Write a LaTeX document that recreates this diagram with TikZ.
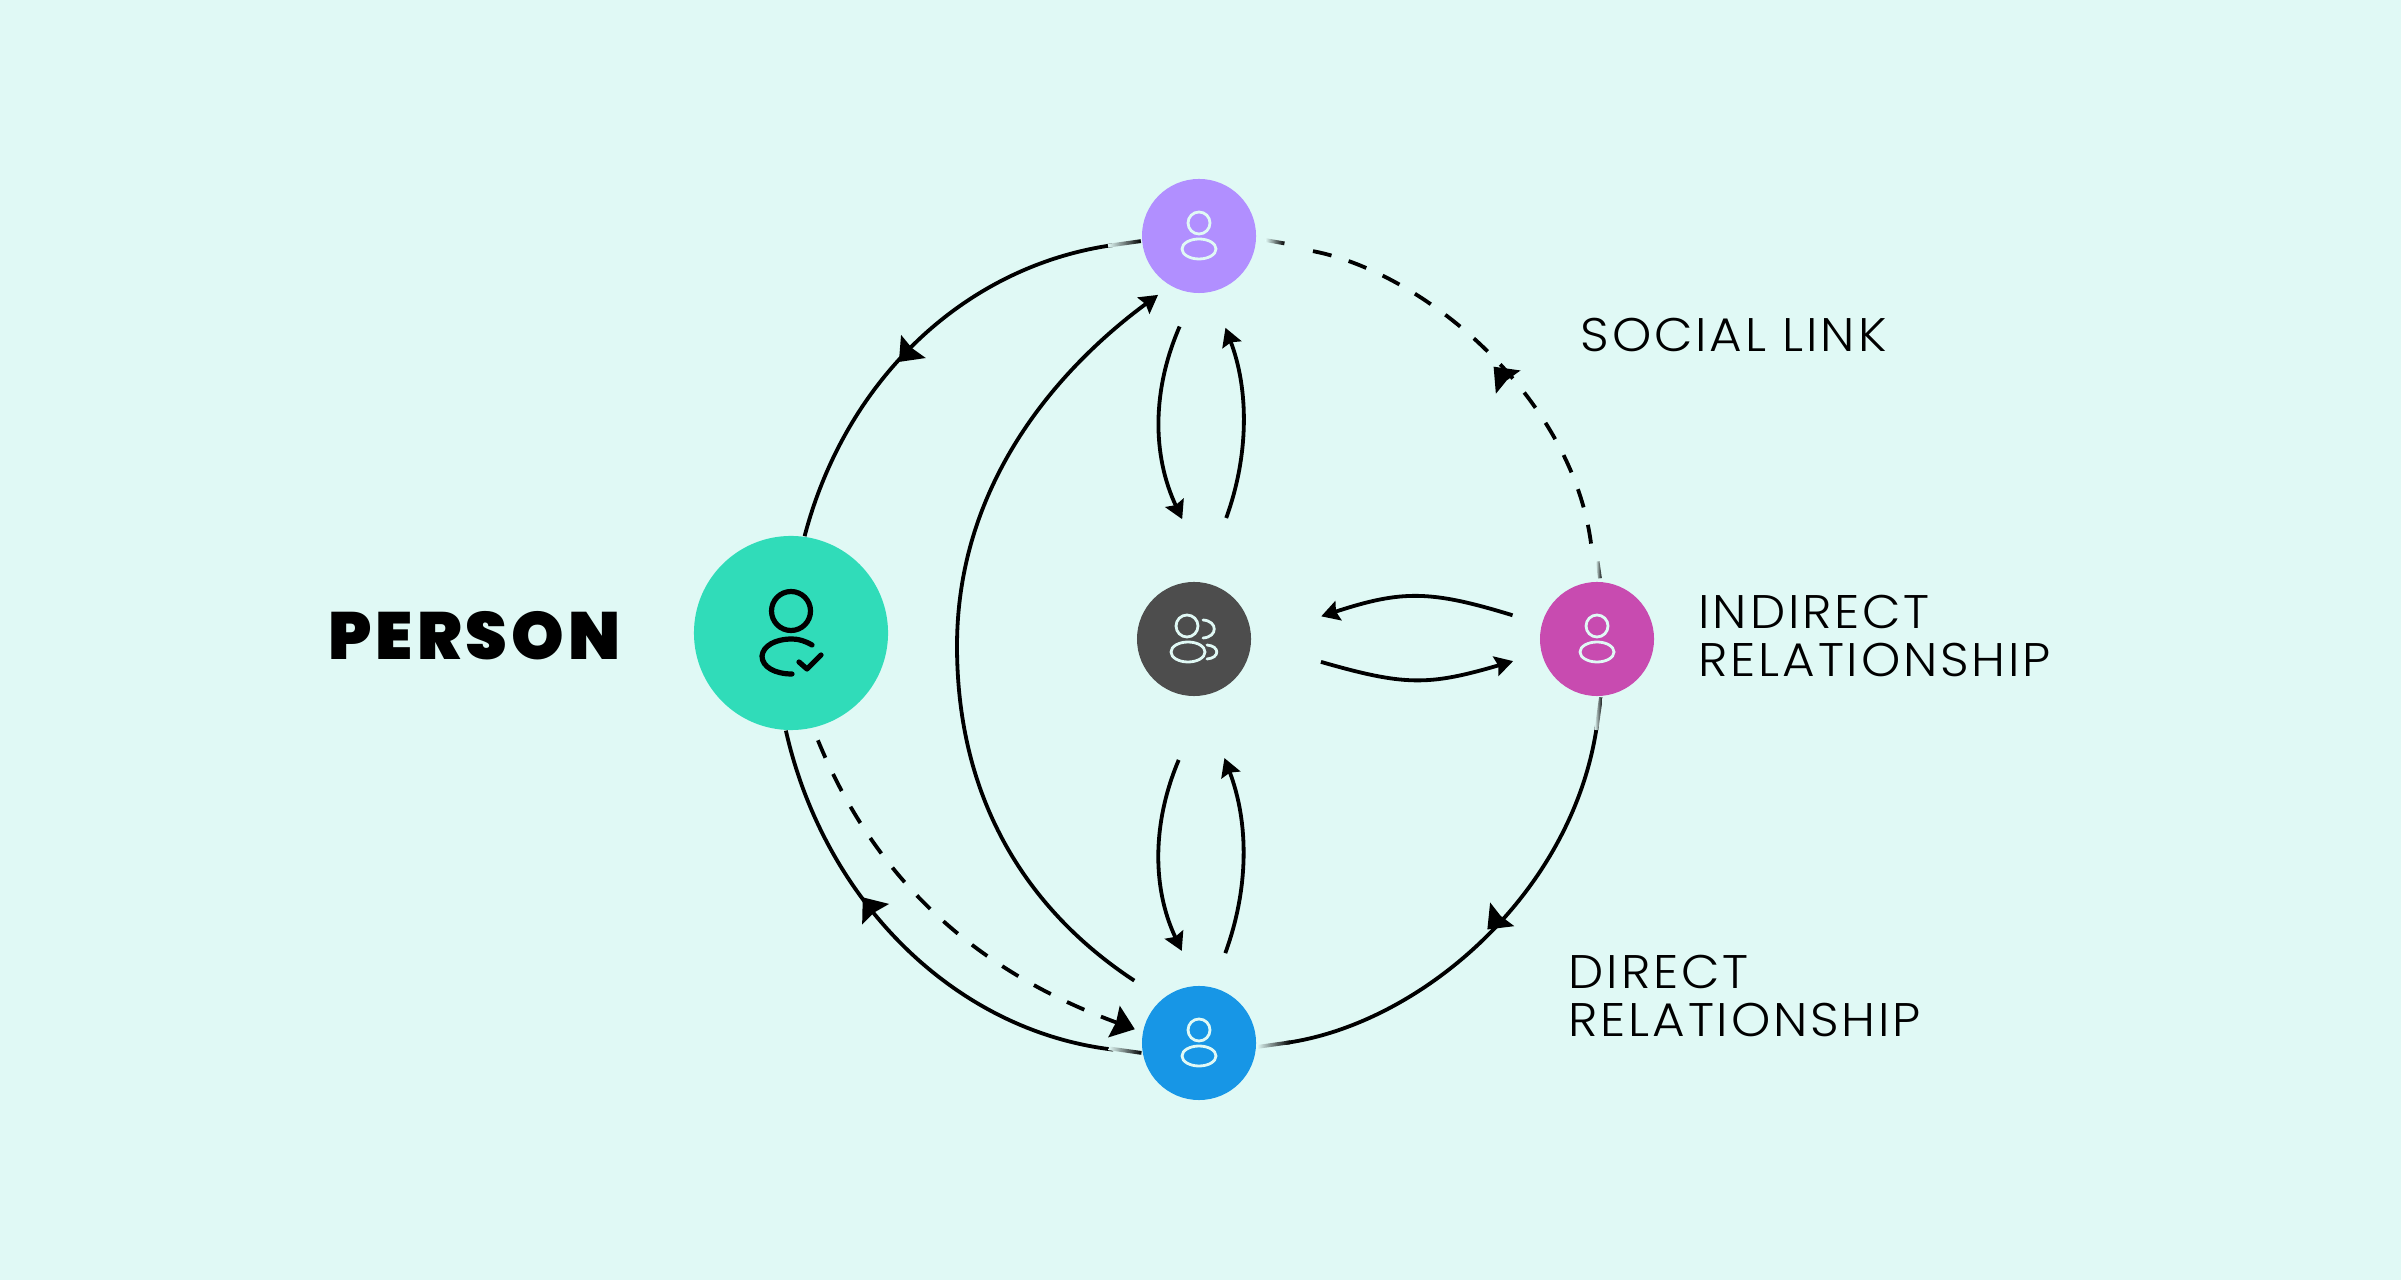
\documentclass[tikz,border=0pt]{standalone}
\usepackage{fontspec}
\usepackage{xcolor}
\usetikzlibrary{arrows.meta}
\usetikzlibrary{decorations.markings}
\newfontfamily\personfont[LetterSpace=6]{Poppins Black}
\newfontfamily\labelfont[LetterSpace=6,FakeStretch=1.06]{Poppins Light}
\definecolor{bgmint}{HTML}{E0F9F5}
\definecolor{personteal}{HTML}{30DCB9}
\definecolor{socialpurple}{HTML}{B18FFF}
\definecolor{groupgrey}{HTML}{4D4D4D}
\definecolor{indirectpink}{HTML}{C84BB0}
\definecolor{directblue}{HTML}{1796E6}
\tikzset{
  dot/.style={circle,fill=#1,inner sep=0pt,minimum size=1.14cm},
  link/.style={draw=black,line width=0.038cm},
  dashlink/.style={link,dash pattern=on 0.19cm off 0.18cm},
  smalltip/.style={-{Stealth[length=0.18cm,width=0.2cm,inset=0.025cm]}},
  bigtip/.style={-{Stealth[length=0.22cm,width=0.33cm,inset=0.02cm]}},
  midtip/.style={postaction={decorate,decoration={markings,mark=at position #1 with {\arrow{Stealth[length=0.21cm,width=0.33cm,inset=0.02cm]}}}}},
  fadebit/.style={rectangle,inner sep=0pt,minimum height=0.038cm,minimum width=#1,left color=bgmint,middle color=black!75!bgmint,right color=black,anchor=west},
  fadebit/.default=0.33cm,
  caption/.style={inner sep=0pt,anchor=west,align=left,font=\fontsize{13.4}{13.4}\labelfont},
  usericon/.pic={
    \draw (0,-13) circle (11);
    \draw (0,13) ellipse [x radius=17,y radius=10];
  },
  groupicon/.pic={
    \draw (-7,-13) circle (11);
    \draw (-6,13) ellipse [x radius=17,y radius=10];
    \draw (9,-19) .. controls (24,-18) and (24,-2) .. (9,-1);
    \draw (13,6) .. controls (26,7) and (26,19) .. (13,20);
  },
  checkicon/.pic={
    \draw (0,-22) circle (19.5);
    \draw (21,12) .. controls (14,8) and (8,6) .. (1,6) .. controls (-16,6) and (-28,13) .. (-29,23) .. controls (-29,34) and (-16,41) .. (1,41);
    \draw (8,29) -- (16,36) -- (30,22);
  }
}
\begin{document}
\begin{tikzpicture}[x=0.01cm,y=-0.01cm]
  \fill[bgmint] (0,0) rectangle (2401,1280);
  \useasboundingbox (0,0) rectangle (2401,1280);

  \node[dot=personteal,minimum size=1.94cm] (person) at (791,633) {};
  \node[dot=socialpurple] (social) at (1199,236) {};
  \node[dot=groupgrey] (group) at (1194,639) {};
  \node[dot=indirectpink] (indirect) at (1597,639) {};
  \node[dot=directblue] (direct) at (1199,1043) {};

  % outer ring
  \draw[link,midtip=0.58,shorten <=0.29cm] (social.185) .. controls (966,266) and (846,378) .. (person.82);
  \draw[link,midtip=0.64,shorten <=0.29cm] (direct.190) .. controls (954,1031) and (824,900) .. (person.267);
  \draw[link,midtip=0.5,shorten <=0.29cm,shorten >=0.29cm] (indirect.-86) .. controls (1573,893) and (1421,1024) .. (direct.-4);
  \draw[dashlink,midtip=0.47,shorten <=0.38cm,shorten >=0.47cm] (indirect.91) .. controls (1571,392) and (1415,265) .. (social.-7);
  \draw[dashlink,bigtip,shorten <=0.13cm,shorten >=0.08cm] (person.-77) .. controls (878,887) and (984,974) .. (direct.169);

  % long curve on the left
  \draw[link,smalltip,shorten <=0.33cm,shorten >=0.15cm] (direct.130) .. controls (1042,920) and (957,816) .. (957,646) .. controls (957,476) and (1067,362) .. (social.240);

  % around the group
  \draw[link,smalltip,shorten <=0.36cm,shorten >=0.72cm] (social.-95) .. controls (1152,390) and (1152,455) .. (group.71);
  \draw[link,smalltip,shorten <=0.68cm,shorten >=0.38cm] (group.81) .. controls (1249,455) and (1249,390) .. (social.-77);
  \draw[link,smalltip,shorten <=0.70cm,shorten >=0.38cm] (group.-78) .. controls (1152,823) and (1152,888) .. (direct.91);
  \draw[link,smalltip,shorten <=0.36cm,shorten >=0.66cm] (direct.76) .. controls (1249,888) and (1249,823) .. (group.-83);
  \draw[link,smalltip,shorten <=0.30cm,shorten >=0.73cm] (indirect.165) .. controls (1430,590) and (1402,590) .. (group.0);
  \draw[link,smalltip,shorten <=0.72cm,shorten >=0.29cm] (group.-3) .. controls (1405,686) and (1428,686) .. (indirect.194);

  % pale ends next to the dots
  \node[fadebit,rotate=188] (fadeA) at (social.185) {};
  \node[fadebit,rotate=172] (fadeB) at (direct.190) {};
  \node[fadebit,rotate=8] (fadeC) at (direct.-4) {};
  \node[fadebit=0.19cm,rotate=-10] (fadeD) at (1265,240) {};
  \node[fadebit=0.17cm,rotate=98] (fadeE) at (1600,579) {};
  \node[fadebit,rotate=-98] (fadeF) at (indirect.-86) {};

  % icons
  \pic[draw=bgmint,line width=0.028cm] (iconsocial) at (social) {usericon};
  \pic[draw=bgmint,line width=0.028cm] (iconindirect) at (indirect) {usericon};
  \pic[draw=bgmint,line width=0.028cm] (icondirect) at (direct) {usericon};
  \pic[draw=bgmint,line width=0.028cm,line cap=round] (icongroup) at (group) {groupicon};
  \pic[draw=black,line width=0.052cm,line cap=round,line join=round] (iconperson) at (person) {checkicon};

  % labels
  \node[inner sep=0pt,anchor=east,font=\fontsize{19}{19}\personfont] (personlabel) at (621,636) {PERSON};
  \node[caption] (sociallabel) at (1580,335) {SOCIAL LINK};
  \node[caption] (indirectlabel) at (1698,636) {INDIRECT\\RELATIONSHIP};
  \node[caption] (directlabel) at (1568,996) {DIRECT\\RELATIONSHIP};
\end{tikzpicture}
\end{document}
